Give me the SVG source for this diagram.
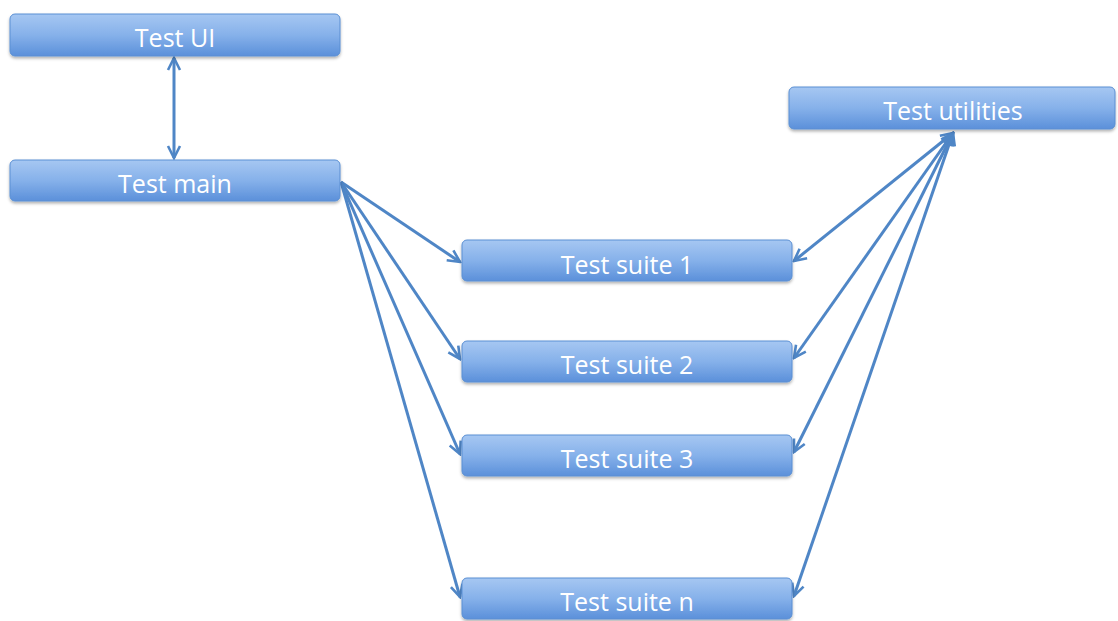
<svg xmlns="http://www.w3.org/2000/svg" width="1118" height="621" viewBox="0 0 1118 621">
<defs>
<linearGradient id="g" x1="0" y1="0" x2="0" y2="1">
<stop offset="0" stop-color="#a6c7f2"/>
<stop offset="0.5" stop-color="#86b1ea"/>
<stop offset="1" stop-color="#5b90da"/>
</linearGradient>
<filter id="sh" x="-5%" y="-20%" width="110%" height="160%">
<feDropShadow dx="0" dy="2" stdDeviation="1.5" flood-color="#000" flood-opacity="0.3"/>
</filter>
<marker id="ah" viewBox="0 0 16 16" refX="14" refY="8" markerWidth="16" markerHeight="16" markerUnits="userSpaceOnUse" orient="auto-start-reverse">
<path d="M2,2 L14,8 L2,14" fill="none" stroke="#4f86c6" stroke-width="2.6"/>
</marker>
<style>
.box{fill:url(#g);stroke:#5a8fd3;stroke-width:1;filter:url(#sh)}
.lbl{font-family:"Open Sans","Noto Sans",sans-serif;font-size:25px;fill:#ffffff;text-anchor:middle}
.c{stroke:#4f86c6;stroke-width:3;fill:none}
</style>
</defs>
<rect width="1118" height="621" fill="#ffffff"/>
<g id="connectors">
<line class="c" x1="174" y1="58" x2="174" y2="158" marker-start="url(#ah)" marker-end="url(#ah)"/>
<line class="c" x1="341" y1="182" x2="460" y2="262" marker-end="url(#ah)"/>
<line class="c" x1="341" y1="182" x2="460" y2="359" marker-end="url(#ah)"/>
<line class="c" x1="341" y1="182" x2="460" y2="454" marker-end="url(#ah)"/>
<line class="c" x1="341" y1="182" x2="460" y2="597" marker-end="url(#ah)"/>
<line class="c" x1="953" y1="133" x2="794" y2="261" marker-start="url(#ah)" marker-end="url(#ah)"/>
<line class="c" x1="953" y1="133" x2="794" y2="358" marker-start="url(#ah)" marker-end="url(#ah)"/>
<line class="c" x1="953" y1="133" x2="794" y2="452" marker-start="url(#ah)" marker-end="url(#ah)"/>
<line class="c" x1="953" y1="133" x2="794" y2="596" marker-start="url(#ah)" marker-end="url(#ah)"/>
</g>
<g id="test-ui"><rect class="box" x="10" y="14" width="330" height="42" rx="5"/><text class="lbl" x="175" y="47">Test UI</text></g>
<g id="test-main"><rect class="box" x="10" y="160" width="330" height="41" rx="5"/><text class="lbl" x="175" y="193">Test main</text></g>
<g id="test-utilities"><rect class="box" x="789" y="87" width="326" height="42" rx="5"/><text class="lbl" x="953" y="120">Test utilities</text></g>
<g id="test-suite-1"><rect class="box" x="462" y="240" width="330" height="41" rx="5"/><text class="lbl" x="627" y="274">Test suite 1</text></g>
<g id="test-suite-2"><rect class="box" x="462" y="341" width="330" height="41" rx="5"/><text class="lbl" x="627" y="374">Test suite 2</text></g>
<g id="test-suite-3"><rect class="box" x="462" y="435" width="330" height="41" rx="5"/><text class="lbl" x="627" y="468">Test suite 3</text></g>
<g id="test-suite-n"><rect class="box" x="462" y="578" width="330" height="41" rx="5"/><text class="lbl" x="627" y="611">Test suite n</text></g>
</svg>
